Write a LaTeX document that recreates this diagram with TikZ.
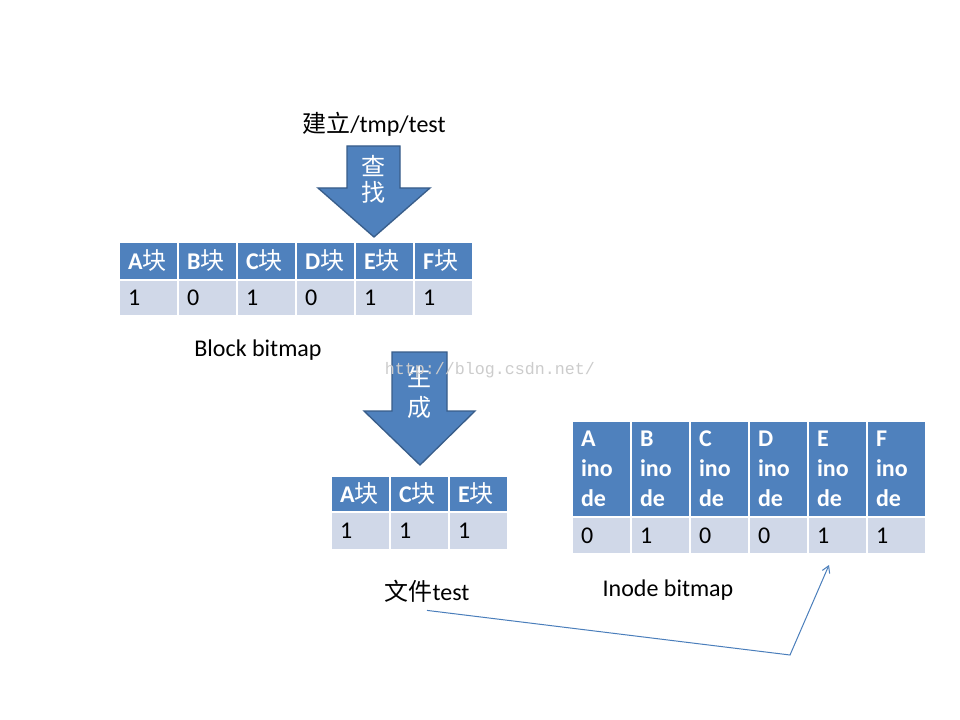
\documentclass[tikz,border=0pt]{standalone}
\usepackage{fontspec}
\setmainfont{Carlito}
\newfontfamily\cjk{Noto Sans CJK SC}
\newfontfamily\wmfont{Liberation Mono}
\newcommand\zh[1]{{\cjk\mdseries #1}}
\usetikzlibrary{positioning,arrows.meta,math}
\definecolor{hdblue}{RGB}{79,129,189}
\definecolor{rowgray}{RGB}{208,216,232}
\definecolor{arrowedge}{RGB}{56,93,138}
\definecolor{linkblue}{RGB}{74,126,187}
\tikzset{
  hdcell/.style={anchor=north west, fill=hdblue, draw=white, line width=1.5pt, text=white,
    font=\bfseries\fontsize{18}{22.5}\selectfont, align=left, text width=30.75pt,
    inner xsep=6.75pt, inner ysep=0pt, minimum width=44.25pt},
  valcell/.style={hdcell, fill=rowgray, text=black, font=\fontsize{18}{21}\selectfont},
  blockarrow/.style={fill=hdblue, draw=arrowedge, line width=1pt},
  caption/.style={font=\fontsize{18}{21}\selectfont, inner sep=0pt},
}

\begin{document}
\begin{tikzpicture}[x=0.75pt,y=-0.75pt]
\tikzmath{
\cw=59;% cell width
}
\fill[white] (0,0) rectangle (960,720);
\useasboundingbox (0,0) rectangle (960,720);

% step 1: look up
\node[caption] (mk) at (374,124) {\zh{建立}/tmp/test};
\draw[blockarrow] (347,146) -- (400,146) -- (400,188) -- (430,188) -- (374,237) -- (318,188) -- (347,188) -- cycle;
\node[caption, text=white, align=center, font=\cjk\fontsize{18}{19.5}\selectfont] (find) at (373,179) {查\\找};

% block bitmap
\foreach \c/\v [count=\i from 0] in {A/1,B/0,C/1,D/0,E/1,F/1}{
  \node[hdcell, minimum height=28.5pt] (bhd\c) at ({118+\cw*\i},241) {\c\zh{块}};
  \node[valcell, minimum height=27pt] (bval\c) at ({118+\cw*\i},279) {\v};
}
\node[caption] (blkcap) at (258,350) {Block bitmap};

% step 2: create
\draw[blockarrow] (392,352) -- (447,352) -- (447,411) -- (475,411) -- (420,465) -- (364,411) -- (392,411) -- cycle;
\node[caption, text=white, align=center, font=\cjk\fontsize{18}{22.5}\selectfont] (make) at (419,392) {生\\成};
\node[inner sep=0pt, text=gray!40, font=\wmfont\fontsize{12.5}{15}\selectfont] (wm) at (490,370) {http://blog.csdn.net/};

% file blocks
\foreach \c [count=\i from 0] in {A,C,E}{
  \node[hdcell, minimum height=27pt] (fhd\c) at ({330+\cw*\i},475) {\c\zh{块}};
  \node[valcell, minimum height=28.5pt] (fval\c) at ({330+\cw*\i},511) {1};
}
\node[caption] (file) at (427,591) {\zh{文件}test};

% inode bitmap
\foreach \c/\v [count=\i from 0] in {A/0,B/1,C/0,D/0,E/1,F/1}{
  \node[hdcell, minimum height=72pt] (ihd\c) at ({571+\cw*\i},420) {\c\\ino\\de};
  \node[valcell, minimum height=27.75pt] (ival\c) at ({571+\cw*\i},516) {\v};
}
\node[caption] (inocap) at (668,590) {Inode bitmap};

\coordinate (bend) at (790,655);
\coordinate (slot) at (829,565);
\draw[linkblue, line width=0.75pt, -{Straight Barb[length=5pt,width=6pt]}] ([yshift=-6pt]file.south) -- (bend) -- (slot);
\end{tikzpicture}
\end{document}
